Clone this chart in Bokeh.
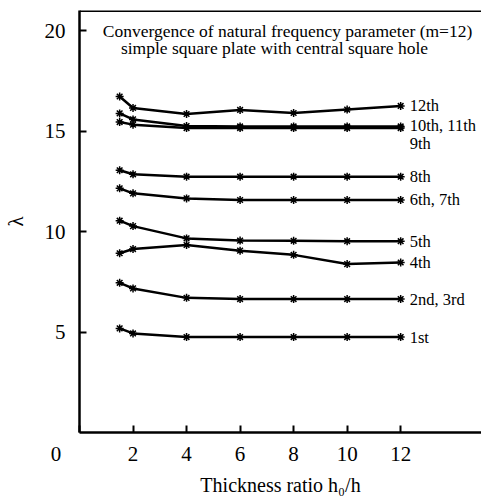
from bokeh.plotting import figure
from bokeh.models import Range1d, FixedTicker, Span, Label
from bokeh.embed import file_html
from bokeh.resources import INLINE

# ---- data ----
thickness_ratio = [1.5, 2, 4, 6, 8, 10, 12]

mode_1st = [5.18, 4.93, 4.75, 4.75, 4.75, 4.75, 4.75]
mode_2nd_3rd = [7.45, 7.17, 6.70, 6.64, 6.64, 6.64, 6.64]
mode_4th = [8.92, 9.13, 9.33, 9.05, 8.84, 8.38, 8.46]
mode_5th = [10.54, 10.27, 9.66, 9.55, 9.54, 9.52, 9.52]
mode_6th_7th = [12.15, 11.90, 11.65, 11.57, 11.57, 11.57, 11.57]
mode_8th = [13.05, 12.85, 12.73, 12.73, 12.73, 12.73, 12.73]
mode_9th = [15.45, 15.32, 15.15, 15.15, 15.15, 15.15, 15.15]
mode_10th_11th = [15.88, 15.58, 15.25, 15.23, 15.23, 15.23, 15.23]
mode_12th = [16.72, 16.15, 15.85, 16.05, 15.90, 16.07, 16.25]

series = [mode_1st, mode_2nd_3rd, mode_4th, mode_5th, mode_6th_7th,
          mode_8th, mode_9th, mode_10th_11th, mode_12th]
series_labels = ["1st", "2nd, 3rd", "4th", "5th", "6th, 7th",
                 "8th", "9th", "10th, 11th", "12th"]
label_pixel_shift = [0, 0, 0, 0, 0, 0, -15, 1, 0]

x_ticks = [0, 2, 4, 6, 8, 10, 12]
y_ticks = [5, 10, 15, 20]

title_line1 = "Convergence of natural frequency parameter (m=12)"
title_line2 = "simple square plate with central square hole"

FONT = "Liberation Serif"
Y_TOP = 21.0

p = figure(width=481, height=498,
           x_range=Range1d(0, 15.02), y_range=Range1d(0, Y_TOP),
           output_backend="svg", toolbar_location=None,
           min_border_left=77, min_border_right=0,
           min_border_top=10, min_border_bottom=65)

p.outline_line_color = None
p.xgrid.visible = False
p.ygrid.visible = False
p.background_fill_color = "white"
p.border_fill_color = "white"

for ax in (p.xaxis[0], p.yaxis[0]):
    ax.axis_line_width = 2.5
    ax.axis_line_color = "black"
    ax.major_tick_in = 7
    ax.major_tick_out = 0
    ax.major_tick_line_width = 2
    ax.major_tick_line_color = "black"
    ax.minor_tick_line_color = None
    ax.major_label_text_font = FONT
    ax.major_label_text_font_size = "21px"
    ax.major_label_text_color = "black"
    ax.axis_label_text_font = FONT
    ax.axis_label_text_font_style = "normal"
    ax.axis_label_text_color = "black"

p.xaxis.ticker = FixedTicker(ticks=x_ticks)
p.yaxis.ticker = FixedTicker(ticks=y_ticks)
# the origin "0" sits left of the corner in the reference: pad it with no-break spaces
p.xaxis.major_label_overrides = {0: "0" + "\u00a0" * 9}
p.xaxis.major_label_standoff = 9
p.yaxis.major_label_standoff = 14
p.xaxis.axis_label = "Thickness ratio h\u2080/h"
p.xaxis.axis_label_text_font_size = "20px"
p.xaxis.axis_label_standoff = 5
p.yaxis.axis_label = "\u03bb"
p.yaxis.axis_label_text_font_size = "21px"
p.yaxis.axis_label_standoff = 14

# top frame line
p.add_layout(Span(location=Y_TOP, dimension="width", line_color="black", line_width=3))

for vals in series:
    p.line(thickness_ratio, vals, line_color="black", line_width=2.5)
    p.scatter(thickness_ratio, vals, marker="asterisk", size=8,
              line_color="black", line_width=1.5)

for vals, txt, dy in zip(series, series_labels, label_pixel_shift):
    p.add_layout(Label(x=thickness_ratio[-1], y=vals[-1], text=txt,
                       x_offset=9, y_offset=dy, text_align="left",
                       text_baseline="middle", text_font=FONT,
                       text_font_size="16.5px", text_color="black"))

# title inside the plot
p.add_layout(Label(x=0, y=20.0, text=title_line1, x_offset=208,
                   text_align="center", text_baseline="middle",
                   text_font=FONT, text_font_size="17.5px", text_color="black"))
p.add_layout(Label(x=0, y=20.0, text=title_line2, x_offset=195, y_offset=-17,
                   text_align="center", text_baseline="middle",
                   text_font=FONT, text_font_size="17.5px", text_color="black"))

open("out.html", "w").write(file_html(p, INLINE))
